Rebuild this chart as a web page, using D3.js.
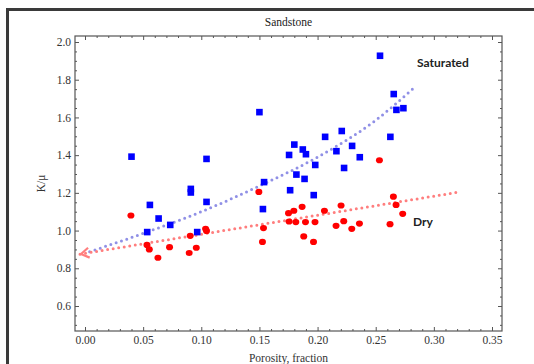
<!DOCTYPE html>
<html lang="en">
<head>
<meta charset="utf-8">
<title>Sandstone</title>
<style type="text/css">
body { margin: 0; background: #fff; }
svg { display: block; }
.tick text, .title, .axis-label {
  font-family: "Liberation Serif", "DejaVu Serif", serif;
  font-size: 11.5px;
  fill: #333;
}
.tick line { stroke: #555; }
.note {
  font-family: Lato, "Liberation Sans", sans-serif;
  font-weight: bold;
  font-size: 12px;
  fill: #222;
}
</style>
</head>
<body>
<svg width="534" height="364"></svg>
<script src="https://cdn.jsdelivr.net/npm/d3@7"></script>
<script>
// Saturated samples (blue squares)
var satPorosity = [0.040, 0.091, 0.091, 0.1045, 0.150, 0.154, 0.0558, 0.0633, 0.0535, 0.0733,
                   0.1045, 0.0965, 0.153, 0.2537, 0.2655, 0.2678, 0.2738, 0.2208, 0.2065, 0.2626,
                   0.180, 0.1873, 0.190, 0.1755, 0.2162, 0.2297, 0.2363, 0.198, 0.2228, 0.1818,
                   0.1888, 0.1764, 0.1967];
var satKmu     = [1.392, 1.221, 1.202, 1.380, 1.628, 1.257, 1.136, 1.064, 0.992, 1.030,
                  1.152, 0.992, 1.114, 1.927, 1.724, 1.640, 1.649, 1.528, 1.497, 1.497,
                  1.456, 1.430, 1.405, 1.401, 1.421, 1.449, 1.389, 1.348, 1.332, 1.297,
                  1.274, 1.214, 1.188];

// Dry samples (red dots)
var dryPorosity = [0.0395, 0.0533, 0.0553, 0.0627, 0.0727, 0.0896, 0.0905, 0.0957, 0.1037, 0.1045,
                   0.1495, 0.1535, 0.1526, 0.175, 0.1796, 0.1867, 0.1755, 0.1813, 0.1896, 0.1978,
                   0.1881, 0.1965, 0.2059, 0.2202, 0.2159, 0.2225, 0.2294, 0.236, 0.2623, 0.2652,
                   0.2675, 0.2732, 0.2532];
var dryKmu     = [1.080, 0.924, 0.900, 0.856, 0.912, 0.881, 0.972, 0.909, 1.009, 0.998,
                  1.205, 1.013, 0.940, 1.092, 1.105, 1.126, 1.048, 1.045, 1.045, 1.045,
                  0.969, 0.940, 1.105, 1.133, 1.025, 1.050, 1.009, 1.037, 1.034, 1.180,
                  1.136, 1.089, 1.373];

// trend lines
var satTrendX = [0.004, 0.05, 0.10, 0.15, 0.20, 0.25, 0.283];
var satTrendY = [0.888, 0.985, 1.100, 1.237, 1.390, 1.585, 1.758];
var dryTrendX = [-0.0043, 0.3193];
var dryTrendY = [0.875, 1.202];

var xTicks = [0, 0.05, 0.10, 0.15, 0.20, 0.25, 0.30, 0.35];
var yTicks = [0.6, 0.8, 1.0, 1.2, 1.4, 1.6, 1.8, 2.0];

var svg = d3.select("svg"),
    frame = {left: 75, right: 502, top: 36, bottom: 331};

var x = d3.scaleLinear().domain([0, 0.35]).range([85, 492]),
    y = d3.scaleLinear().domain([0.6, 2.0]).range([306, 42]);

// outer border (top and left edges only are visible)
svg.append("path")
    .attr("d", "M7.5,364 V9.5 H534")
    .attr("fill", "none")
    .attr("stroke", "#3a3a3a")
    .attr("stroke-width", 3);

svg.append("text")
    .attr("class", "title")
    .attr("x", (frame.left + frame.right) / 2)
    .attr("y", 26)
    .attr("text-anchor", "middle")
    .style("fill", "#222")
    .text("Sandstone");

var xMinor = d3.range(0, 0.3551, 0.01).filter(function(v) { return Math.round(v * 100) % 5 != 0; }),
    yMinor = d3.range(0.5, 2.001, 0.05).filter(function(v) { return Math.round(v * 100) % 20 != 0; });

function addAxis(axis, tx, ty, labels) {
  var g = svg.append("g")
      .attr("transform", "translate(" + tx + "," + ty + ")")
      .call(axis);
  g.select(".domain").remove();
  if (!labels) g.selectAll("text").remove();
  return g;
}

// major ticks, labelled on bottom / left
addAxis(d3.axisBottom(x).tickValues(xTicks).tickSizeInner(-4).tickSizeOuter(0).tickPadding(5)
        .tickFormat(d3.format(".2f")), 0, frame.bottom, true);
addAxis(d3.axisLeft(y).tickValues(yTicks).tickSizeInner(-4).tickSizeOuter(0).tickPadding(4)
        .tickFormat(d3.format(".1f")), frame.left, 0, true);
addAxis(d3.axisTop(x).tickValues(xTicks).tickSizeInner(-4).tickSizeOuter(0), 0, frame.top, false);
addAxis(d3.axisRight(y).tickValues(yTicks).tickSizeInner(-4).tickSizeOuter(0), frame.right, 0, false);

// minor ticks on all sides
addAxis(d3.axisBottom(x).tickValues(xMinor).tickSizeInner(-2).tickSizeOuter(0), 0, frame.bottom, false);
addAxis(d3.axisTop(x).tickValues(xMinor).tickSizeInner(-2).tickSizeOuter(0), 0, frame.top, false);
addAxis(d3.axisLeft(y).tickValues(yMinor).tickSizeInner(-2).tickSizeOuter(0), frame.left, 0, false);
addAxis(d3.axisRight(y).tickValues(yMinor).tickSizeInner(-2).tickSizeOuter(0), frame.right, 0, false);

svg.append("rect")
    .attr("x", frame.left)
    .attr("y", frame.top)
    .attr("width", frame.right - frame.left)
    .attr("height", frame.bottom - frame.top)
    .attr("fill", "none")
    .attr("stroke", "#555")
    .attr("stroke-width", 1.2);

svg.append("text")
    .attr("class", "axis-label")
    .attr("transform", "translate(45," + ((frame.top + frame.bottom) / 2) + ") rotate(-90)")
    .attr("text-anchor", "middle")
    .text("K/\u03bc");

svg.append("text")
    .attr("class", "axis-label")
    .attr("x", (frame.left + frame.right) / 2)
    .attr("y", 362)
    .attr("text-anchor", "middle")
    .text("Porosity, fraction");

var line = d3.line()
    .x(function(d) { return x(d[0]); })
    .y(function(d) { return y(d[1]); });

var satTrend = d3.zip(satTrendX, satTrendY),
    dryTrend = d3.zip(dryTrendX, dryTrendY);

svg.append("path")
    .datum(satTrend)
    .attr("d", line.curve(d3.curveMonotoneX))
    .attr("fill", "none")
    .attr("stroke", "#9090e6")
    .attr("stroke-width", 3)
    .attr("stroke-linecap", "round")
    .attr("stroke-dasharray", "0,5.6");

svg.append("path")
    .datum(dryTrend)
    .attr("d", line.curve(d3.curveLinear))
    .attr("fill", "none")
    .attr("stroke", "#ff7e7e")
    .attr("stroke-width", 3)
    .attr("stroke-linecap", "round")
    .attr("stroke-dasharray", "0,5.6");

// open arrow head at the start of the dry trend
var ax = x(dryTrend[0][0]), ay = y(dryTrend[0][1]),
    ang = Math.atan2(y(dryTrend[1][1]) - ay, x(dryTrend[1][0]) - ax) * 180 / Math.PI;
svg.append("path")
    .attr("transform", "translate(" + ax + "," + ay + ") rotate(" + ang + ")")
    .attr("d", "M9,-5L1,0L9,5")
    .attr("fill", "none")
    .attr("stroke", "#ff7e7e")
    .attr("stroke-width", 2.2)
    .attr("stroke-linejoin", "round");

svg.append("g").selectAll("rect")
    .data(d3.zip(satPorosity, satKmu))
    .enter().append("rect")
      .attr("x", function(d) { return x(d[0]) - 3.3; })
      .attr("y", function(d) { return y(d[1]) - 3.3; })
      .attr("width", 6.6)
      .attr("height", 6.6)
      .attr("fill", "#0000ff");

svg.append("g").selectAll("ellipse")
    .data(d3.zip(dryPorosity, dryKmu))
    .enter().append("ellipse")
      .attr("cx", function(d) { return x(d[0]); })
      .attr("cy", function(d) { return y(d[1]); })
      .attr("rx", 3.5)
      .attr("ry", 3.1)
      .attr("fill", "#ff0000");

svg.append("text")
    .attr("class", "note")
    .attr("x", 417)
    .attr("y", 67)
    .text("Saturated");

svg.append("text")
    .attr("class", "note")
    .attr("x", 413)
    .attr("y", 226)
    .text("Dry");
</script>
</body>
</html>
